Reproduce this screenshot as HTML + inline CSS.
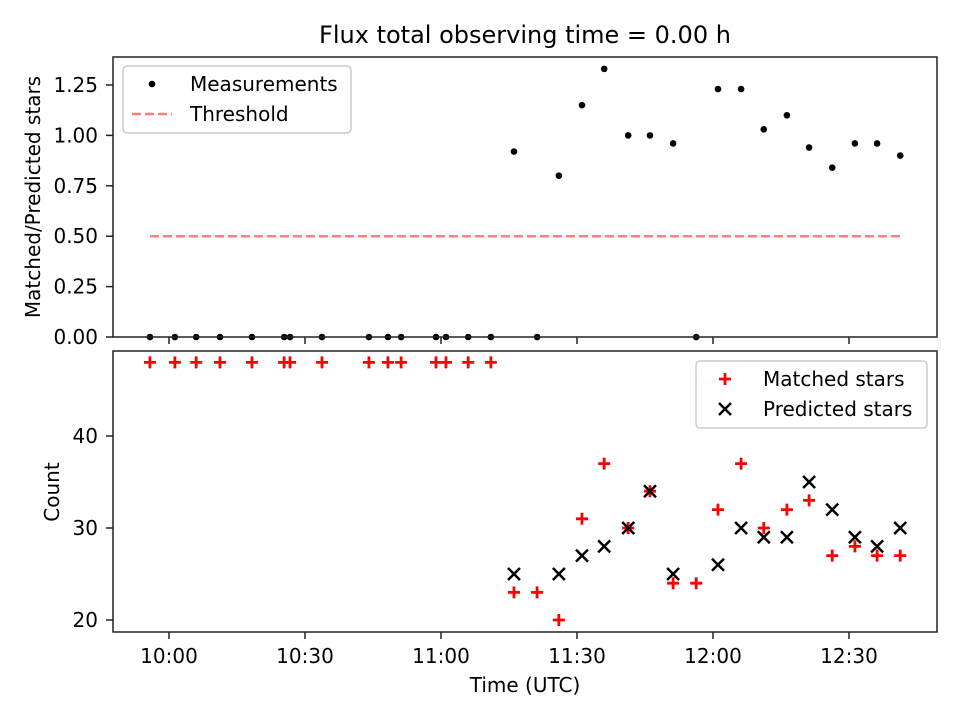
<!DOCTYPE html>
<html><head><meta charset="utf-8"><style>
body{margin:0;background:#fff;}
svg{font-family:"DejaVu Sans","Liberation Sans",sans-serif;}
</style></head><body>
<svg id="c" width="960" height="720" viewBox="0 0 960 720" xmlns="http://www.w3.org/2000/svg">
<rect width="960" height="720" fill="#fff"/>
</svg>
<script>
const times=[-4.2,1.3,6,11.25,18.3,25.4,26.7,33.75,44.1,48.3,51.2,58.9,61.1,66,71,76.1,81.2,86,91.1,96,101.3,106.1,111.2,116.3,121.1,126.2,131.2,136.3,141.2,146.3,151.3,156.2,161.3];
const ratios=[0,0,0,0,0,0,0,0,0,0,0,0,0,0,0,0.92,0,0.80,1.15,1.33,1.0,1.0,0.96,0,1.23,1.23,1.03,1.10,0.94,0.84,0.96,0.96,0.90];
const matched=[48,48,48,48,48,48,48,48,48,48,48,48,48,48,48,23,23,20,31,37,30,34,24,24,32,37,30,32,33,27,28,27,27];
const predicted=[null,null,null,null,null,null,null,null,null,null,null,null,null,null,null,25,null,25,27,28,30,34,25,null,26,30,29,29,35,32,29,28,30];
const threshold=0.5;
const xTickLabels=["10:00","10:30","11:00","11:30","12:00","12:30"];
const xTickMin=[0,30,60,90,120,150];
const topYTicks=[0,0.25,0.5,0.75,1.0,1.25];
const botYTicks=[20,30,40];

const NS="http://www.w3.org/2000/svg";
const svg=document.getElementById('c');
function el(t,a,p){const e=document.createElementNS(NS,t);for(const k in a)e.setAttribute(k,a[k]);(p||svg).appendChild(e);return e;}
const L=113,R=937,T1=57,B1=337,T2=351,B2=632;
const FS=20;
const X=m=>169+m*(136/30);
const Y1=v=>337-v*201.6;
const Y2=v=>620-(v-20)*9.2;

let t=el('text',{x:525,y:43,'text-anchor':'middle','font-size':24});t.textContent='Flux total observing time = 0.00 h';



const g1=el('g',{});


let ln=el('line',{x1:X(times[0]),x2:X(times[times.length-1]),y1:Y1(threshold),y2:Y1(threshold),stroke:'#ff7f7f','stroke-width':2.5,'stroke-dasharray':'9,4'},g1);


times.forEach((m,i)=>{const c=el('circle',{cx:X(m),cy:Y1(ratios[i]),r:3.3,fill:'#000'},g1);

});
el('rect',{x:L,y:T1,width:R-L,height:B1-T1,fill:'none',stroke:'#222','stroke-width':1.5},g1);
topYTicks.forEach(v=>{const y=Y1(v);el('line',{x1:L-7,x2:L,y1:y,y2:y,stroke:'#222','stroke-width':1.5},g1);
const tx=el('text',{x:L-15,y:y+7,'text-anchor':'end','font-size':FS},g1);tx.textContent=v.toFixed(2);

});
xTickMin.forEach(m=>{el('line',{x1:X(m),x2:X(m),y1:B1,y2:B1+7,stroke:'#222','stroke-width':1.5},g1);});
let yt=el('text',{transform:'translate(40,197) rotate(-90)','text-anchor':'middle','font-size':FS},g1);yt.textContent='Matched/Predicted stars';


const lg1=el('g',{},g1);


el('rect',{x:123,y:66,width:228,height:67,rx:4,fill:'#fff',stroke:'#ccc','stroke-width':1.5},lg1);
el('circle',{cx:152,cy:84,r:3.3,fill:'#000'},lg1);
let lt=el('text',{x:190,y:91,'font-size':FS},lg1);lt.textContent='Measurements';
el('line',{x1:132,x2:172,y1:114,y2:114,stroke:'#ff7f7f','stroke-width':2.5,'stroke-dasharray':'9,4'},lg1);
lt=el('text',{x:190,y:121,'font-size':FS},lg1);lt.textContent='Threshold';

const g2=el('g',{});


times.forEach((m,i)=>{const x=X(m),y=Y2(matched[i]);
const p=el('path',{d:`M${x-6},${y}H${x+6}M${x},${y-6}V${y+6}`,stroke:'red','stroke-width':2.8},g2);


if(predicted[i]!=null){const yp=Y2(predicted[i]);
const q=el('path',{d:`M${x-6},${yp-6}L${x+6},${yp+6}M${x-6},${yp+6}L${x+6},${yp-6}`,stroke:'#000','stroke-width':2.5},g2);

}});
el('rect',{x:L,y:T2,width:R-L,height:B2-T2,fill:'none',stroke:'#222','stroke-width':1.5},g2);
botYTicks.forEach(v=>{const y=Y2(v);el('line',{x1:L-7,x2:L,y1:y,y2:y,stroke:'#222','stroke-width':1.5},g2);
const tx=el('text',{x:L-15,y:y+7,'text-anchor':'end','font-size':FS},g2);tx.textContent=v;

});
xTickMin.forEach((m,i)=>{el('line',{x1:X(m),x2:X(m),y1:B2,y2:B2+7,stroke:'#222','stroke-width':1.5},g2);
const tx=el('text',{x:X(m),y:B2+31,'text-anchor':'middle','font-size':FS},g2);tx.textContent=xTickLabels[i];

});
yt=el('text',{transform:'translate(59,492) rotate(-90)','text-anchor':'middle','font-size':FS},g2);yt.textContent='Count';


let xt=el('text',{x:525,y:692,'text-anchor':'middle','font-size':FS},g2);xt.textContent='Time (UTC)';


const lg2=el('g',{},g2);


el('rect',{x:696,y:361,width:231,height:67,rx:4,fill:'#fff',stroke:'#ccc','stroke-width':1.5},lg2);
el('path',{d:'M719,379H731M725,373V385',stroke:'red','stroke-width':2.8},lg2);
lt=el('text',{x:763,y:386,'font-size':FS},lg2);lt.textContent='Matched stars';
el('path',{d:'M719,403L731,415M719,415L731,403',stroke:'#000','stroke-width':2.5},lg2);
lt=el('text',{x:763,y:416,'font-size':FS},lg2);lt.textContent='Predicted stars';
</script>
</body></html>
